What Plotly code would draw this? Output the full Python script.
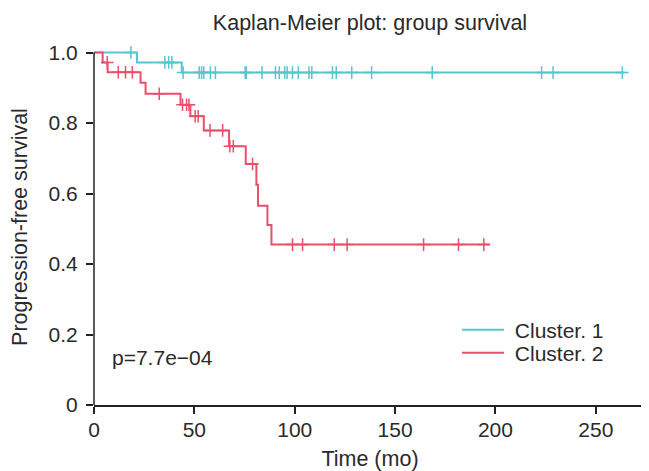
import plotly.graph_objects as go

# ---- data ----
c1_step_time = [0, 21.4, 43.7, 264.4]
c1_step_surv = [1.0, 0.972, 0.943, 0.943]
c1_censor_time = [18.4, 35.3, 37.2, 38.8, 44.4, 52.4, 53.6, 54.7, 58.0, 60.5,
                  75.3, 75.9, 83.7, 90.4, 92.3, 95.0, 96.2, 98.9, 101.8, 107.1,
                  108.5, 118.8, 120.7, 128.4, 138.3, 168.5, 223.0, 228.7, 263.2]

c2_step_time = [0, 4.3, 6.8, 23.2, 25.7, 43.1, 48.0, 54.7, 67.3, 75.6,
                80.9, 81.7, 86.4, 88.4, 197.0]
c2_step_surv = [1.0, 0.972, 0.944, 0.914, 0.883, 0.852, 0.819, 0.779, 0.734, 0.684,
                0.625, 0.565, 0.511, 0.455, 0.455]
c2_censor_time = [6.6, 12.1, 15.7, 19.1, 32.5, 44.1, 46.1, 47.3, 50.4, 51.9,
                  57.8, 64.1, 67.7, 69.4, 79.0, 98.9, 103.9, 119.7, 126.1,
                  164.2, 181.6, 194.2]

x_ticks = [0, 50, 100, 150, 200, 250]
y_ticks = [0, 0.2, 0.4, 0.6, 0.8, 1.0]
y_tick_labels = ["0", "0.2", "0.4", "0.6", "0.8", "1.0"]

series_names = ["Cluster. 1", "Cluster. 2"]
colors = ["#56C5D0", "#E8506A"]
p_text = "p=7.7e\u221204"


def surv_at(times, survs, t):
    s = survs[0]
    for tt, ss in zip(times, survs):
        if tt <= t:
            s = ss
    return s


FONT = "Liberation Sans, Arial, sans-serif"
TXT = "#2a2a2a"
YMAX = 1.01
OFF = 8  # page body margin
W, H = 649 - OFF, 471 - OFF
ML, MR, MT, MB = 94 - OFF, 3, 49 - OFF, 66
PW, PH = W - ML - MR, H - MT - MB

fig = go.Figure()
groups = [
    (c1_step_time, c1_step_surv, c1_censor_time),
    (c2_step_time, c2_step_surv, c2_censor_time),
]
legend_ids = ["legend", "legend2"]
for (st, ss, ct), name, col, lg in zip(groups, series_names, colors, legend_ids):
    fig.add_trace(go.Scatter(
        x=st, y=ss, mode="lines", name=" " + name, legend=lg,
        line=dict(color=col, width=2, shape="hv"),
    ))
for (st, ss, ct), name, col in zip(groups, series_names, colors):
    fig.add_trace(go.Scatter(
        x=ct, y=[surv_at(st, ss, t) for t in ct], mode="markers",
        showlegend=False, cliponaxis=False,
        marker=dict(symbol="cross-thin", size=9, color=col,
                    line=dict(color=col, width=1.5)),
        hoverinfo="skip",
    ))

fig.add_annotation(x=8, y=0.134, xref="x", yref="y", text=p_text,
                   showarrow=False, xanchor="left", yanchor="middle",
                   font=dict(family=FONT, size=21, color=TXT))

# y axis line only from 0 to 1.0
fig.add_shape(type="line", xref="paper", yref="paper", x0=0, x1=0,
              y0=0, y1=1 / YMAX, line=dict(color="#222222", width=1.5))


def legend_at(px_x, px_y):
    # px_x: left of legend line sample, px_y: vertical centre of item (window px)
    fx, fy = px_x - OFF, px_y - OFF
    return dict(x=(fx - 5 - ML) / PW, y=(H - MB - fy) / PH,
                xanchor="left", yanchor="middle",
                bgcolor="rgba(0,0,0,0)", font=dict(size=21, color=TXT),
                itemwidth=42)


fig.update_layout(
    width=W, height=H,
    margin=dict(l=ML, r=MR, t=MT, b=MB),
    paper_bgcolor="white", plot_bgcolor="white",
    font=dict(family=FONT, size=21, color=TXT),
    title=dict(text="Kaplan-Meier plot: group survival", x=0.5, xref="paper",
               y=1 - 14 / H, yanchor="middle", xanchor="center",
               font=dict(family=FONT, size=21.5, color=TXT)),
    legend=legend_at(462, 330),
    legend2=legend_at(462, 353),
    showlegend=True,
)
fig.update_xaxes(range=[0, 275], tickvals=x_ticks, showgrid=False, zeroline=False,
                 showline=True, linecolor="#222222", linewidth=1.5,
                 ticks="outside", ticklen=7, tickwidth=1.5, tickcolor="#222222",
                 tickfont=dict(size=21, color=TXT), automargin=False,
                 ticklabelstandoff=-2,
                 title=dict(text="Time (mo)", standoff=13,
                            font=dict(size=21.5, color=TXT)))
fig.update_yaxes(range=[0, YMAX], tickvals=y_ticks, ticktext=y_tick_labels,
                 showgrid=False, zeroline=False, showline=False,
                 ticks="outside", ticklen=7, tickwidth=1.5, tickcolor="#222222",
                 tickfont=dict(size=21, color=TXT), automargin=False,
                 ticklabelstandoff=4,
                 title=dict(text="Progression-free survival", standoff=18,
                            font=dict(size=21.5, color=TXT)))

fig.write_html("out.html")
